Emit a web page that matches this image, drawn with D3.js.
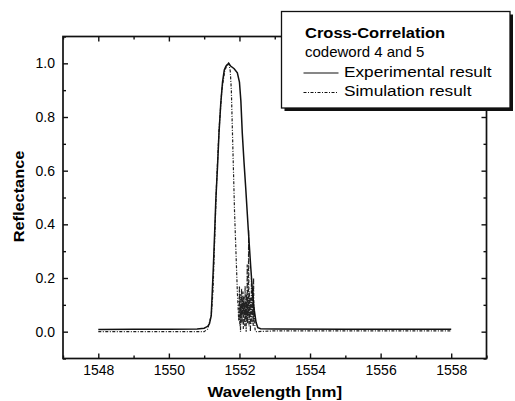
<!DOCTYPE html>
<html>
<head>
<meta charset="utf-8">
<script src="https://cdn.jsdelivr.net/npm/d3@7"></script>
<style>
  body { margin: 0; background: #fff; }
  text { font-family: "Liberation Sans", Arial, sans-serif; fill: #000; }
</style>
</head>
<body>
<div id="chart"></div>
<script>
// Data
const xMajorTicks = [1548, 1550, 1552, 1554, 1556, 1558];
const xMinorTicks = [1547, 1549, 1551, 1553, 1555, 1557, 1559];
const yMajorTicks = [0, 0.2, 0.4, 0.6, 0.8, 1.0];
const yMinorTicks = [-0.1, 0.1, 0.3, 0.5, 0.7, 0.9, 1.1];

const expWavelength = [1548, 1549, 1550, 1550.8, 1551.0, 1551.1, 1551.15, 1551.2, 1551.23, 1551.26,
  1551.3, 1551.33, 1551.38, 1551.42, 1551.47, 1551.52, 1551.57, 1551.62, 1551.66, 1551.69,
  1551.75, 1551.85, 1551.94, 1552.0, 1552.04, 1552.08, 1552.13, 1552.18, 1552.25, 1552.32,
  1552.38, 1552.42, 1552.47, 1552.52, 1552.6, 1553, 1555, 1558];
const expReflectance = [0.008, 0.009, 0.009, 0.01, 0.013, 0.02, 0.03, 0.06, 0.15, 0.24,
  0.38, 0.49, 0.62, 0.74, 0.85, 0.93, 0.975, 0.99, 0.995, 1.0,
  0.99, 0.98, 0.965, 0.93, 0.86, 0.74, 0.63, 0.53, 0.38, 0.24,
  0.13, 0.08, 0.035, 0.015, 0.011, 0.01, 0.009, 0.009];

const simWavelength = [1548, 1549, 1550, 1551.0, 1551.1, 1551.2, 1551.25, 1551.3, 1551.35, 1551.42,
  1551.5, 1551.58, 1551.66, 1551.7, 1551.74, 1551.77, 1551.8, 1551.83, 1551.86, 1551.9,
  1551.94, 1551.98, 1552.0, 1552.01, 1552.02, 1552.03, 1552.04, 1552.05, 1552.06, 1552.07,
  1552.08, 1552.09, 1552.1, 1552.11, 1552.12, 1552.13, 1552.14, 1552.15, 1552.16, 1552.17,
  1552.18, 1552.19, 1552.2, 1552.21, 1552.22, 1552.23, 1552.24, 1552.25, 1552.26, 1552.27,
  1552.28, 1552.29, 1552.3, 1552.31, 1552.32, 1552.33, 1552.34, 1552.35, 1552.36, 1552.37,
  1552.38, 1552.39, 1552.4, 1552.41, 1552.42, 1552.44, 1552.46, 1553, 1555, 1558];
const simReflectance = [0.0, 0.0, 0.0, 0.0, 0.01, 0.06, 0.15, 0.35, 0.55, 0.75,
  0.9, 0.97, 1.0, 1.0, 0.97, 0.9, 0.75, 0.6, 0.45, 0.3,
  0.15, 0.04, 0.17, 0.02, 0.14, 0.0, 0.1, 0.05, 0.16, 0.03,
  0.12, 0.07, 0.15, 0.01, 0.13, 0.06, 0.11, 0.02, 0.17, 0.05,
  0.1, 0.0, 0.14, 0.04, 0.25, 0.03, 0.12, 0.06, 0.38, 0.02,
  0.15, 0.05, 0.13, 0.0, 0.11, 0.07, 0.2, 0.03, 0.12, 0.06,
  0.15, 0.02, 0.2, 0.04, 0.08, 0.01, 0.0, 0.003, 0.003, 0.003];

const legendTitle = "Cross-Correlation";
const legendSubtitle = "codeword 4 and 5";
const seriesNames = ["Experimental result", "Simulation result"];

// Layout
const svgWidth = 515, svgHeight = 401;
const margin = { top: 36.5, right: 28.5, bottom: 42.5, left: 63 };
const width = svgWidth - margin.left - margin.right;
const height = svgHeight - margin.top - margin.bottom;

const x = d3.scaleLinear().domain([1547, 1559]).range([0, width]);
const y = d3.scaleLinear().domain([-0.1, 1.1]).range([height, 0]);

const svg = d3.select("#chart").append("svg")
  .attr("width", svgWidth).attr("height", svgHeight);
const g = svg.append("g").attr("transform", `translate(${margin.left},${margin.top})`);

// Axes: ticks point inwards on all four sides
function styleAxis(sel) {
  sel.select(".domain").remove();
  sel.selectAll("line").attr("stroke", "#111").attr("stroke-width", 1.4);
  sel.selectAll("text").attr("font-size", 14).attr("fill", "#000");
  sel.attr("font-family", null);
}

g.append("g").attr("transform", `translate(0,${height})`)
  .call(d3.axisBottom(x).tickValues(xMajorTicks).tickSize(-5).tickPadding(6.5).tickFormat(d3.format("d")))
  .call(styleAxis);
g.append("g").attr("transform", `translate(0,${height})`)
  .call(d3.axisBottom(x).tickValues(xMinorTicks).tickSize(-3).tickFormat(""))
  .call(styleAxis);
g.append("g")
  .call(d3.axisTop(x).tickValues(xMajorTicks).tickSize(-5).tickFormat(""))
  .call(styleAxis);
g.append("g")
  .call(d3.axisTop(x).tickValues(xMinorTicks).tickSize(-3).tickFormat(""))
  .call(styleAxis);
g.append("g")
  .call(d3.axisLeft(y).tickValues(yMajorTicks).tickSize(-5).tickPadding(8).tickFormat(d3.format(".1f")))
  .call(styleAxis);
g.append("g")
  .call(d3.axisLeft(y).tickValues(yMinorTicks).tickSize(-3).tickFormat(""))
  .call(styleAxis);
g.append("g").attr("transform", `translate(${width},0)`)
  .call(d3.axisRight(y).tickValues(yMajorTicks).tickSize(-5).tickFormat(""))
  .call(styleAxis);
g.append("g").attr("transform", `translate(${width},0)`)
  .call(d3.axisRight(y).tickValues(yMinorTicks).tickSize(-3).tickFormat(""))
  .call(styleAxis);

// Frame
g.append("rect")
  .attr("width", width).attr("height", height)
  .attr("fill", "none").attr("stroke", "#111").attr("stroke-width", 1.7);

// Lines
const line = d3.line().x((d) => x(d[0])).y((d) => y(d[1]));
g.append("path")
  .datum(d3.zip(simWavelength, simReflectance))
  .attr("fill", "none").attr("stroke", "#222").attr("stroke-width", 1.2)
  .attr("stroke-dasharray", "3,1.5,1,1.5")
  .attr("d", line);
g.append("path")
  .datum(d3.zip(expWavelength, expReflectance))
  .attr("fill", "none").attr("stroke", "#111").attr("stroke-width", 1.5)
  .attr("d", line);

// Axis titles
svg.append("text")
  .attr("transform", `translate(${margin.left + width / 2},397) scale(1.12,1)`)
  .attr("text-anchor", "middle").attr("font-weight", "bold").attr("font-size", 15)
  .text("Wavelength [nm]");
svg.append("text")
  .attr("transform", `translate(24,${margin.top + height / 2 - 1}) rotate(-90) scale(1.09,1)`)
  .attr("text-anchor", "middle").attr("font-weight", "bold").attr("font-size", 15)
  .text("Reflectance");

// Legend
const legend = svg.append("g").attr("transform", "translate(281.5,11.5)");
const lw = 228.5, lh = 96.5;
legend.append("rect").attr("x", 3).attr("y", 3).attr("width", lw).attr("height", lh).attr("fill", "#111");
legend.append("rect").attr("width", lw).attr("height", lh)
  .attr("fill", "#fff").attr("stroke", "#111").attr("stroke-width", 1.3);
legend.append("text")
  .attr("transform", "translate(23.5,26) scale(1.1,1)")
  .attr("font-weight", "bold").attr("font-size", 15).text(legendTitle);
legend.append("text")
  .attr("transform", "translate(23.5,45.5) scale(1.0,1)")
  .attr("font-size", 15).text(legendSubtitle);
const entries = legend.selectAll(".entry")
  .data(seriesNames)
  .join("g")
  .attr("class", "entry")
  .attr("transform", (d, i) => `translate(0,${65 + i * 19.5})`);
entries.append("line")
  .attr("x1", 22).attr("x2", 57).attr("y1", -3.5).attr("y2", -3.5)
  .attr("stroke", "#111")
  .attr("stroke-width", (d, i) => (i === 0 ? 1.2 : 1))
  .attr("stroke-dasharray", (d, i) => (i === 0 ? null : "3,1.5,1,1.5"));
entries.append("text")
  .attr("transform", "translate(62.5,0) scale(1.15,1)")
  .attr("font-size", 15).text((d) => d);
</script>
</body>
</html>
